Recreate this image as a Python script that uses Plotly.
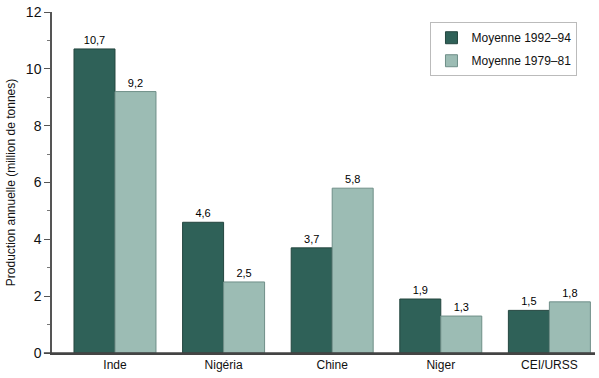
import plotly.graph_objects as go

categories = ["Inde", "Nigéria", "Chine", "Niger", "CEI/URSS"]
moy_1992_94 = [10.7, 4.6, 3.7, 1.9, 1.5]
moy_1979_81 = [9.2, 2.5, 5.8, 1.3, 1.8]
labels_1992_94 = ["10,7", "4,6", "3,7", "1,9", "1,5"]
labels_1979_81 = ["9,2", "2,5", "5,8", "1,3", "1,8"]
y_ticks = [0, 2, 4, 6, 8, 10, 12]

dark = "#2f6158"
light = "#9cbcb4"
FONT = "Liberation Sans, Arial, sans-serif"

fig = go.Figure()
fig.add_trace(go.Bar(
    x=categories, y=moy_1992_94, name="Moyenne 1992–94", legendgroup="a",
    marker=dict(color=dark, line=dict(color="#24463f", width=1)),
    text=labels_1992_94, textposition="outside", cliponaxis=False,
    textfont=dict(size=11, color="#000000", family=FONT),
))
fig.add_trace(go.Bar(
    x=categories, y=moy_1979_81, name="Moyenne 1979–81", legendgroup="b",
    marker=dict(color=light, line=dict(color="#6f8f88", width=1)),
    text=labels_1979_81, textposition="outside", cliponaxis=False,
    textfont=dict(size=11, color="#000000", family=FONT),
))

fig.update_layout(
    width=599, height=378,
    margin=dict(l=52, r=4, t=12, b=25),
    paper_bgcolor="white", plot_bgcolor="white",
    barmode="group", bargap=0.245, bargroupgap=0,
    font=dict(family=FONT, color="#111111"),
    showlegend=True,
    legend=dict(
        x=0.697, y=0.97, xanchor="left", yanchor="top",
        bordercolor="#bbbbbb", borderwidth=1, bgcolor="white",
        font=dict(size=12), traceorder="grouped",
        itemwidth=30, tracegroupgap=4,
    ),
)
fig.update_xaxes(
    type="category", range=[-0.58, 4.42],
    showline=True, linecolor="#444444", linewidth=1.5,
    ticks="", tickfont=dict(size=12), showgrid=False,
)
fig.update_yaxes(
    range=[0, 12], tickvals=y_ticks,
    showline=True, linecolor="#555555", linewidth=1.5,
    ticks="outside", ticklen=6, tickcolor="#555555",
    minor=dict(dtick=1, ticks="outside", ticklen=3, tickcolor="#777777"),
    tickfont=dict(size=14), showgrid=False, zeroline=False,
    title=dict(text="Production annuelle (million de tonnes)", font=dict(size=12), standoff=8),
)
fig.add_shape(type="line", xref="paper", yref="paper", x0=-0.015, x1=1, y0=0, y1=0,
              line=dict(color="#444444", width=1.5))

fig.write_html("out.html", config={"displayModeBar": False},
               post_script="document.body.style.margin='0';")
